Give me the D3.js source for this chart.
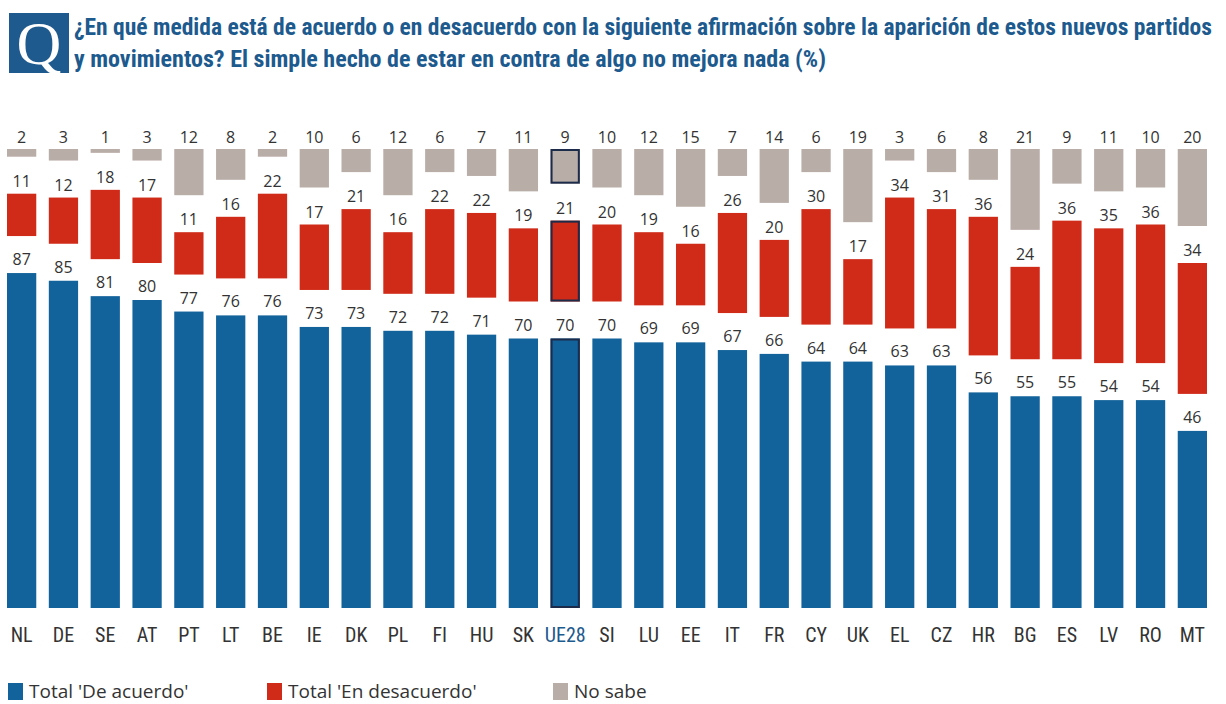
<!DOCTYPE html>
<html><head><meta charset="utf-8">
<script src="https://cdn.jsdelivr.net/npm/d3@7"></script>
<style>
html,body{margin:0;padding:0;background:#fff;}
svg{display:block;}
</style></head>
<body><svg id="c" width="1226" height="704"></svg>
<script>
const categories = ["NL","DE","SE","AT","PT","LT","BE","IE","DK","PL","FI","HU","SK","UE28","SI","LU","EE","IT","FR","CY","UK","EL","CZ","HR","BG","ES","LV","RO","MT"];
const deAcuerdo = [87,85,81,80,77,76,76,73,73,72,72,71,70,70,70,69,69,67,66,64,64,63,63,56,55,55,54,54,46];
const enDesacuerdo = [11,12,18,17,11,16,22,17,21,16,22,22,19,21,20,19,16,26,20,30,17,34,31,36,24,36,35,36,34];
const noSabe = [2,3,1,3,12,8,2,10,6,12,6,7,11,9,10,12,15,7,14,6,19,3,6,8,21,9,11,10,20];
const seriesNames = ["Total 'De acuerdo'","Total 'En desacuerdo'","No sabe"];
const titleLines = ["¿En qué medida está de acuerdo o en desacuerdo con la siguiente afirmación sobre la aparición de estos nuevos partidos",
                    "y movimientos? El simple hecho de estar en contra de algo no mejora nada (%)"];
const highlight = "UE28";

const colors = {blue:"#12639b", red:"#d02a18", grey:"#b9ada8", text:"#333", title:"#1d5a8e"};
const svg = d3.select("#c");
const baseline = 608, gap = 37;
const x = d3.scaleBand().domain(categories).range([7,1207]).paddingInner(0.3).paddingOuter(0);
const h = d3.scaleLinear().domain([0,100]).range([0,385]);

const data = categories.map((c,i)=>({c, a:deAcuerdo[i], d:enDesacuerdo[i], n:noSabe[i]}));
const cond = "'Liberation Sans Narrow','Arial Narrow','Roboto Condensed',sans-serif";

// Title
svg.append("rect").attr("x",9).attr("y",13).attr("width",60).attr("height",60).attr("fill","#1f5a8e");
svg.append("text").attr("x",39).attr("y",64).attr("text-anchor","middle").attr("fill","#fff")
  .attr("font-family","'Liberation Serif','DejaVu Serif',serif").attr("font-size",62).text("Q");
const tl = [[74,35,1138],[74,67,752]];
titleLines.forEach((t,i)=>{
  svg.append("text").attr("x",tl[i][0]).attr("y",tl[i][1]).attr("fill",colors.title)
    .attr("font-family",cond).attr("font-weight","bold").attr("font-size",23)
    .attr("textLength",tl[i][2]).attr("lengthAdjust","spacingAndGlyphs").text(t);
});

const g = svg.append("g");
const col = g.selectAll("g.col").data(data).join("g").attr("class","col");
const bw = x.bandwidth();
// blue
col.append("rect").attr("x",d=>x(d.c)).attr("width",bw)
  .attr("y",d=>baseline-h(d.a)).attr("height",d=>h(d.a)).attr("fill",colors.blue);
// red
col.append("rect").attr("x",d=>x(d.c)).attr("width",bw)
  .attr("y",d=>baseline-h(d.a)-gap-h(d.d)).attr("height",d=>h(d.d)).attr("fill",colors.red);
// grey
col.append("rect").attr("x",d=>x(d.c)).attr("width",bw)
  .attr("y",d=>baseline-h(100)-2*gap).attr("height",d=>h(d.n)).attr("fill",colors.grey);
// highlight outlines
col.filter(d=>d.c===highlight).each(function(d){
  const s = d3.select(this);
  const ys = [[baseline-h(d.a),h(d.a)],[baseline-h(d.a)-gap-h(d.d),h(d.d)],[baseline-h(100)-2*gap,h(d.n)]];
  ys.forEach(([y,hh])=>s.append("rect").attr("x",x(d.c)+1).attr("width",bw-2).attr("y",y+1).attr("height",hh-2)
    .attr("fill","none").attr("stroke","#1c2b4a").attr("stroke-width",2));
});
// labels
const lab = (sel)=>sel.attr("text-anchor","middle").attr("font-family","'Open Sans','Noto Sans',sans-serif")
  .attr("font-size",16).attr("fill",colors.text);
col.append("text").call(lab).attr("x",d=>x(d.c)+bw/2).attr("y",d=>baseline-h(d.a)-8).text(d=>d.a);
col.append("text").call(lab).attr("x",d=>x(d.c)+bw/2).attr("y",d=>baseline-h(d.a)-gap-h(d.d)-7).text(d=>d.d);
col.append("text").call(lab).attr("x",d=>x(d.c)+bw/2).attr("y",baseline-h(100)-2*gap-6).text(d=>d.n);

// category axis
const ax = svg.append("g").attr("transform",`translate(0,${baseline})`)
  .call(d3.axisBottom(x).tickSize(0).tickPadding(20));
ax.select(".domain").remove();
ax.selectAll("text").attr("font-family",cond).attr("font-size",20)
  .attr("fill",d=>d===highlight?colors.title:colors.text);

// legend
const leg = [[8,colors.blue],[267,colors.red],[553,colors.grey]];
seriesNames.forEach((n,i)=>{
  svg.append("rect").attr("x",leg[i][0]).attr("y",683).attr("width",15).attr("height",17).attr("fill",leg[i][1]);
  svg.append("text").attr("x",leg[i][0]+21).attr("y",698).attr("font-family","'Open Sans','Noto Sans',sans-serif")
    .attr("font-size",19).attr("fill",colors.text).text(n);
});
</script></body></html>
